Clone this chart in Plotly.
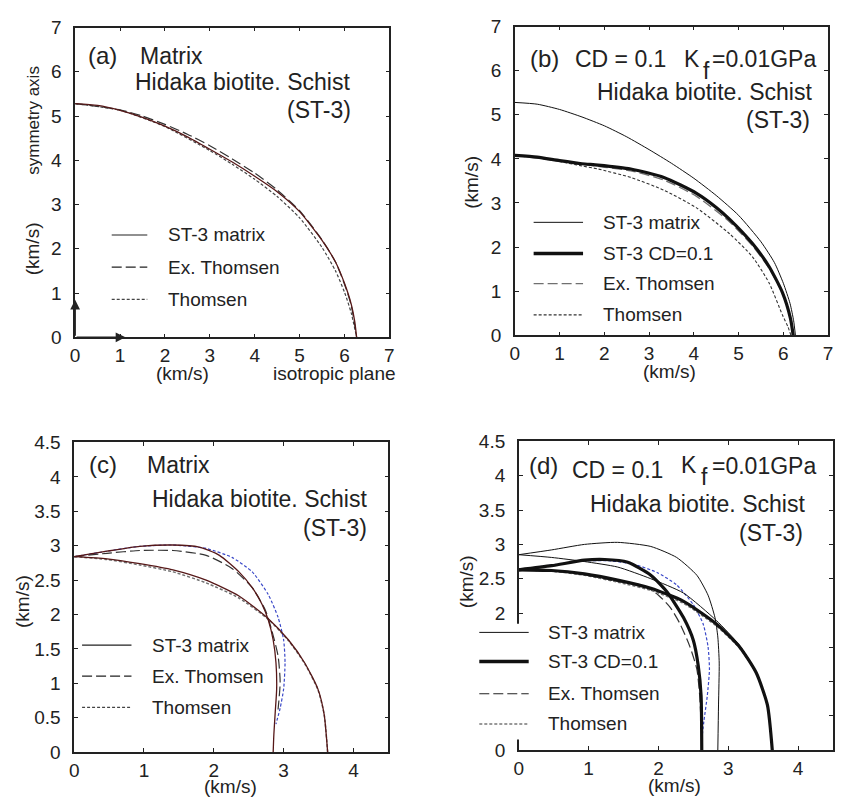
import plotly.graph_objects as go

W, H = 841, 808

# ---------------- data (km/s) ----------------
# (a) P-wave, matrix
A_MAT_X = [0, 0.5, 1, 1.5, 2, 2.5, 3, 3.5, 4, 4.5, 5, 5.5, 5.8, 6.0, 6.15, 6.23, 6.27]
A_MAT_Y = [5.28, 5.24, 5.13, 4.97, 4.77, 4.53, 4.25, 3.96, 3.64, 3.29, 2.84, 2.19, 1.7, 1.22, 0.75, 0.35, 0]
A_EXT_X = [0, 1, 1.5, 2, 2.5, 3, 3.5, 4, 4.5, 5, 5.5, 5.8, 6.0, 6.15, 6.27]
A_EXT_Y = [5.28, 5.14, 5.0, 4.81, 4.59, 4.33, 4.03, 3.71, 3.33, 2.86, 2.2, 1.7, 1.2, 0.72, 0]
A_THM_X = [0, 1, 2, 3, 3.5, 4, 4.5, 5, 5.5, 5.8, 6.0, 6.15, 6.27]
A_THM_Y = [5.28, 5.13, 4.76, 4.22, 3.91, 3.57, 3.18, 2.7, 2.03, 1.5, 1.02, 0.55, 0]

# (b) P-wave, CD = 0.1
B_MAT_X = [0, 0.5, 1, 1.5, 2, 2.5, 3, 3.5, 4, 4.5, 5, 5.5, 5.8, 6.0, 6.15, 6.23, 6.27]
B_MAT_Y = [5.28, 5.24, 5.12, 4.95, 4.75, 4.5, 4.21, 3.9, 3.56, 3.17, 2.72, 2.12, 1.65, 1.18, 0.72, 0.33, 0]
B_CD_X = [0, 0.5, 1, 1.5, 1.86, 2.59, 3.33, 4.06, 4.5, 4.8, 5.31, 5.68, 5.98, 6.16, 6.22]
B_CD_Y = [4.08, 4.04, 3.96, 3.89, 3.86, 3.77, 3.58, 3.22, 2.9, 2.63, 2.08, 1.56, 0.97, 0.38, 0]
B_EXT_X = [0, 1, 2, 2.59, 3.33, 4.06, 4.8, 5.31, 5.68, 5.98, 6.16, 6.22]
B_EXT_Y = [4.08, 3.95, 3.81, 3.73, 3.52, 3.15, 2.57, 2.03, 1.52, 0.95, 0.38, 0]
B_THM_X = [0, 0.5, 1, 1.5, 1.86, 2.59, 3.33, 4.06, 4.8, 5.31, 5.68, 5.98, 6.1, 6.17]
B_THM_Y = [4.08, 4.03, 3.94, 3.84, 3.77, 3.58, 3.29, 2.89, 2.30, 1.78, 1.19, 0.46, 0.2, 0]

# (c) S-waves, matrix
C_SV_X = [0, 0.47, 0.94, 1.415, 1.79, 2.08, 2.36, 2.55, 2.69, 2.78, 2.85, 2.89, 2.90, 2.88, 2.86, 2.85]
C_SV_Y = [2.84, 2.92, 2.99, 3.01, 2.98, 2.86, 2.62, 2.39, 2.15, 1.92, 1.63, 1.30, 0.92, 0.59, 0.26, 0]
C_SH_X = [0, 0.47, 0.94, 1.415, 1.89, 2.36, 2.78, 3.07, 3.30, 3.49, 3.58, 3.63]
C_SH_Y = [2.84, 2.81, 2.74, 2.65, 2.50, 2.27, 1.94, 1.63, 1.30, 0.92, 0.55, 0]
C_EXT_X = [0, 0.47, 0.94, 1.415, 1.89, 2.26, 2.55, 2.74, 2.83, 2.92, 2.95, 2.92]
C_EXT_Y = [2.84, 2.89, 2.93, 2.93, 2.86, 2.67, 2.39, 2.06, 1.77, 1.40, 1.02, 0.62]
C_THM_SV_X = [0, 0.47, 0.94, 1.415, 1.89, 2.26, 2.55, 2.78, 2.92, 3.0, 3.02, 3.0, 2.95, 2.89]
C_THM_SV_Y = [2.84, 2.92, 2.99, 3.01, 2.96, 2.83, 2.62, 2.29, 1.96, 1.63, 1.30, 0.92, 0.64, 0.41]
C_THM_SH_X = [0, 0.47, 0.94, 1.415, 1.89, 2.36, 2.78, 3.07, 3.30, 3.49, 3.58, 3.63]
C_THM_SH_Y = [2.84, 2.80, 2.72, 2.62, 2.46, 2.24, 1.93, 1.62, 1.29, 0.91, 0.55, 0]

# (d) S-waves, CD = 0.1
D_MSV_X = [0, 0.47, 0.94, 1.415, 1.89, 2.26, 2.55, 2.71, 2.81, 2.85, 2.87, 2.86, 2.85]
D_MSV_Y = [2.85, 2.92, 3.0, 3.03, 2.97, 2.81, 2.55, 2.26, 1.93, 1.65, 1.27, 0.66, 0]
D_MSH_X = [0, 0.47, 0.94, 1.415, 1.89, 2.36, 2.83, 3.16, 3.40, 3.56, 3.63]
D_MSH_Y = [2.85, 2.81, 2.75, 2.67, 2.50, 2.29, 1.89, 1.53, 1.14, 0.66, 0]
D_CSV_X = [0, 0.47, 0.94, 1.23, 1.56, 1.89, 2.12, 2.36, 2.5, 2.57, 2.61, 2.62]
D_CSV_Y = [2.63, 2.69, 2.77, 2.78, 2.74, 2.55, 2.31, 1.93, 1.60, 1.23, 0.80, 0]
D_CSH_X = [0, 0.47, 0.94, 1.415, 1.89, 2.36, 2.83, 3.16, 3.40, 3.56, 3.63]
D_CSH_Y = [2.63, 2.62, 2.57, 2.48, 2.36, 2.17, 1.84, 1.51, 1.13, 0.66, 0]
D_EXT_X = [0, 0.47, 0.94, 1.415, 1.79, 2.0, 2.17, 2.31, 2.45, 2.55, 2.59, 2.61]
D_EXT_Y = [2.63, 2.61, 2.56, 2.46, 2.40, 2.26, 2.08, 1.84, 1.51, 1.18, 0.80, 0.4]
D_THM_SV_X = [0, 0.47, 0.94, 1.32, 1.65, 1.98, 2.26, 2.5, 2.64, 2.71, 2.73, 2.70, 2.65, 2.63]
D_THM_SV_Y = [2.63, 2.70, 2.76, 2.76, 2.71, 2.59, 2.41, 2.12, 1.84, 1.51, 1.18, 0.80, 0.42, 0.24]
D_THM_SH_X = [0, 0.47, 0.94, 1.415, 1.89, 2.36, 2.83, 3.16, 3.40, 3.56, 3.63]
D_THM_SH_Y = [2.63, 2.61, 2.55, 2.45, 2.33, 2.14, 1.81, 1.49, 1.12, 0.65, 0]

LEG_AC = ["ST-3 matrix", "Ex. Thomsen", "Thomsen"]
LEG_BD = ["ST-3 matrix", "ST-3 CD=0.1", "Ex. Thomsen", "Thomsen"]

# ---------------- styles ----------------
FONT = "Liberation Sans"
TXT = "#222222"
MAROON = "#561818"
BLUE = "#3a48c8"
GRAY = "#707070"
DASH = "10px,4px"
DOT = "3px,2px"


def px(x):
    return x / W


def py(y):
    return 1 - y / H


fig = go.Figure()


def add(xs, ys, ax, color, width, dash="solid"):
    fig.add_trace(go.Scatter(
        x=xs, y=ys, mode="lines", xaxis="x" + ax, yaxis="y" + ax,
        line=dict(color=color, width=width, dash=dash, shape="spline", smoothing=0.6),
        showlegend=False, hoverinfo="skip"))


# (a)
add(A_THM_X, A_THM_Y, "", "#444444", 1.2, DOT)
add(A_EXT_X, A_EXT_Y, "", "#333333", 1.2, DASH)
add(A_MAT_X, A_MAT_Y, "", MAROON, 1.3)
# (b)
add(B_THM_X, B_THM_Y, "2", "#333333", 1.1, DOT)
add(B_EXT_X, B_EXT_Y, "2", GRAY, 1.3, DASH)
add(B_MAT_X, B_MAT_Y, "2", "#111111", 1.0)
add(B_CD_X, B_CD_Y, "2", "#111111", 3.2)
# (c)
add(C_THM_SH_X, C_THM_SH_Y, "3", GRAY, 1.5, DOT)
add(C_THM_SV_X, C_THM_SV_Y, "3", BLUE, 1.2, DOT)
add(C_EXT_X, C_EXT_Y, "3", "#333333", 1.2, DASH)
add(C_SV_X, C_SV_Y, "3", MAROON, 1.3)
add(C_SH_X, C_SH_Y, "3", MAROON, 1.3)
# (d)
add(D_THM_SH_X, D_THM_SH_Y, "4", GRAY, 1.5, DOT)
add(D_THM_SV_X, D_THM_SV_Y, "4", BLUE, 1.2, DOT)
add(D_EXT_X, D_EXT_Y, "4", "#333333", 1.2, DASH)
add(D_MSV_X, D_MSV_Y, "4", "#111111", 1.0)
add(D_MSH_X, D_MSH_Y, "4", "#111111", 1.0)
add(D_CSV_X, D_CSV_Y, "4", "#111111", 3.2)
add(D_CSH_X, D_CSH_Y, "4", "#111111", 3.2)


def axis(domain, rng, dtick, anchor, standoff=None):
    d = dict(domain=domain, range=rng, dtick=dtick, tick0=0, anchor=anchor,
             showline=True, linecolor="#222222", linewidth=1.5, mirror="ticks",
             ticks="inside", ticklen=4, tickwidth=1, tickcolor="#222222",
             showgrid=False, zeroline=False,
             tickfont=dict(family=FONT, size=19, color=TXT))
    if standoff is not None:
        d["ticklabelstandoff"] = standoff
    return d


layout = dict(
    width=W, height=H, margin=dict(l=0, r=0, t=0, b=0),
    paper_bgcolor="white", plot_bgcolor="white",
    xaxis=axis([px(71), px(389)], [0, 7], 1, "y"),
    yaxis=axis([py(336), py(18)], [0, 7], 1, "x", 8),
    xaxis2=axis([px(516), px(833)], [0, 7], 1, "y2"),
    yaxis2=axis([py(334), py(17)], [0, 7], 1, "x2", 8),
    xaxis3=axis([px(70), px(388)], [0, 4.5], 1, "y3"),
    yaxis3=axis([py(762), py(444)], [0, 4.5], 0.5, "x3", 8),
    xaxis4=axis([px(520), px(838)], [0, 4.5], 1, "y4"),
    yaxis4=axis([py(760), py(443)], [0, 4.5], 0.5, "x4", 8),
)
fig.update_layout(**layout)

ann = []
shapes = []


def text(s, x, y, size=23, xanchor="left", angle=0):
    ann.append(dict(text=s, x=px(x), y=py(y), xref="paper", yref="paper",
                    xanchor=xanchor, yanchor="middle", showarrow=False,
                    textangle=angle, font=dict(family=FONT, size=size, color=TXT)))


# panel texts
text("(a)", 82, 47, 24); text("Matrix", 135, 47)
text("Hidaka biotite. Schist", 130, 74); text("(ST-3)", 352, 103, xanchor="right")

text("(b)", 529, 50, 24); text("CD = 0.1", 575, 50)
text("K", 685, 50); text("f", 704, 63); text("=0.01GPa", 713, 50)
text("Hidaka biotite. Schist", 597, 84); text("(ST-3)", 817, 113, xanchor="right")

text("(c)", 83, 467, 24); text("Matrix", 142, 467)
text("Hidaka biotite. Schist", 147, 502); text("(ST-3)", 368, 532, xanchor="right")

text("(d)", 528, 468, 24); text("CD = 0.1", 572, 472)
text("K", 682, 467); text("f", 702, 479); text("=0.01GPa", 713, 468)
text("Hidaka biotite. Schist", 590, 507); text("(ST-3)", 810, 537, xanchor="right")

# axis labels
text("symmetry axis", 28, 113, 17, "center", -90)
text("(km/s)", 28, 245, 19, "center", -90)
text("(km/s)", 180, 373, 19, "center")
text("isotropic plane", 333, 373, 19, "center")
text("(km/s)", 472, 177, 19, "center", -90)
text("(km/s)", 672, 371, 19, "center")
text("(km/s)", 17, 607, 19, "center", -90)
text("(km/s)", 228, 797, 19, "center")
text("(km/s)", 467, 587, 19, "center", -90)
text("(km/s)", 678, 796, 19, "center")

# arrows at origin in (a)
for (tx, ty) in [(0, 0.85), (1.12, 0)]:
    ann.append(dict(x=tx, y=ty, ax=0, ay=0, xref="x", yref="y", axref="x", ayref="y",
                    text="", showarrow=True, arrowhead=2, arrowsize=1.3,
                    arrowwidth=1.5, arrowcolor="#222222"))

# white box hiding part of axis in (d)
shapes.append(dict(type="rect", xref="paper", yref="paper", x0=px(470), x1=px(668),
                   y0=py(749), y1=py(630), fillcolor="white", line=dict(width=0),
                   layer="above"))


def leg_line(x0, x1, y, color, width, dash):
    shapes.append(dict(type="line", xref="paper", yref="paper", x0=px(x0), x1=px(x1),
                       y0=py(y), y1=py(y), line=dict(color=color, width=width, dash=dash),
                       layer="above"))


# legend (a)
styles_ac = [("#222222", 1.2, "solid"), ("#222222", 1.2, DASH), ("#444444", 1.2, DOT)]
for i, (lab, st) in enumerate(zip(LEG_AC, styles_ac)):
    yy = [231, 264, 297][i]
    leg_line(108, 144, yy, *st)
    text(lab, 163, yy, 19)
# legend (c)
for i, (lab, st) in enumerate(zip(LEG_AC, styles_ac)):
    yy = [652, 684, 716][i]
    leg_line(78, 128, yy, *st)
    text(lab, 147, yy, 19)
# legend (b)
styles_bd = [("#111111", 1.0, "solid"), ("#111111", 3.5, "solid"),
             (GRAY, 1.3, DASH), ("#333333", 1.1, DOT)]
for i, (lab, st) in enumerate(zip(LEG_BD, styles_bd)):
    yy = [218, 250, 281, 313][i]
    leg_line(535, 585, yy, *st)
    text(lab, 603, yy, 19)
# legend (d)
styles_d = [("#111111", 1.0, "solid"), ("#111111", 3.5, "solid"),
            ("#222222", 1.2, DASH), ("#333333", 1.1, DOT)]
for i, (lab, st) in enumerate(zip(LEG_BD, styles_d)):
    yy = [639, 669, 702, 733][i]
    leg_line(480, 530, yy, *st)
    text(lab, 548, yy, 19)

fig.update_layout(annotations=ann, shapes=shapes)
fig.write_html("out.html")
